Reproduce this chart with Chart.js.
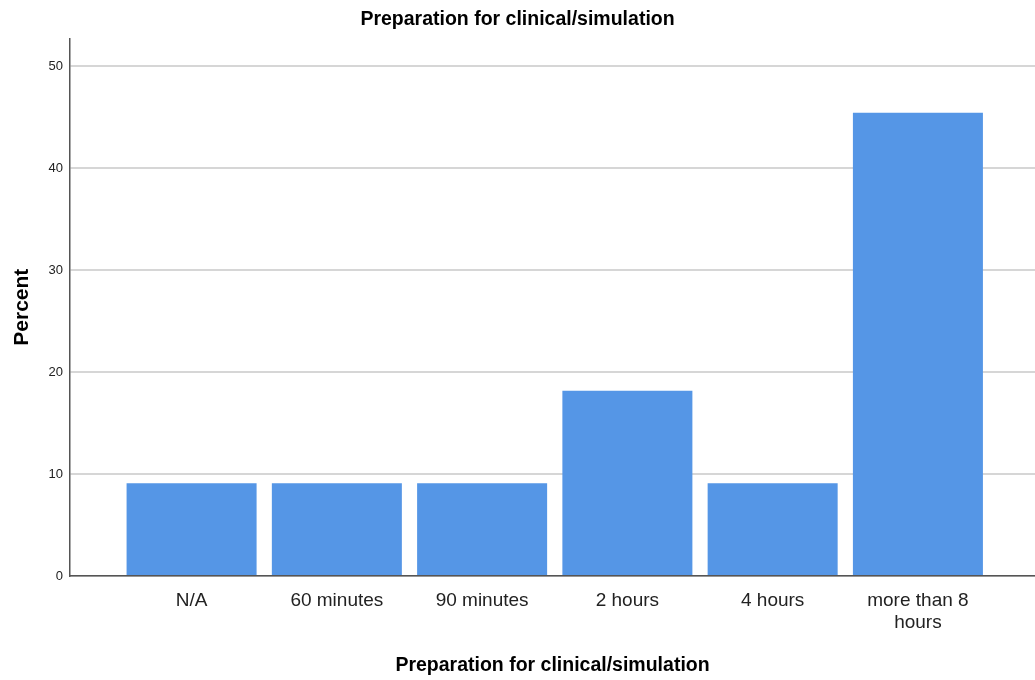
<!DOCTYPE html>
<html>
<head>
<meta charset="utf-8">
<script src="https://cdn.jsdelivr.net/npm/chart.js@4/dist/chart.umd.min.js"></script>
<style>
  body { margin: 0; background: #fff; }
  #wrap { width: 1035px; height: 680px; }
</style>
</head>
<body>
<div id="wrap"><canvas id="myChart"></canvas></div>
<script>
// categories and percents
const categories = ['N/A', '60 minutes', '90 minutes', '2 hours', '4 hours', ['more than 8', 'hours']];
const percents = [9.09, 9.09, 9.09, 18.18, 9.09, 45.45];
const yTicks = [0, 10, 20, 30, 40, 50];

const font = "'Liberation Sans', Arial, sans-serif";

const ctx = document.getElementById('myChart').getContext('2d');
new Chart(ctx, {
  type: 'bar',
  data: {
    datasets: [{
      data: percents.map((v, i) => ({ x: i, y: v })),
      backgroundColor: '#5596e6',
      borderWidth: 0,
      barPercentage: 0.895,
      categoryPercentage: 1
    }]
  },
  options: {
    responsive: true,
    maintainAspectRatio: false,
    animation: false,
    layout: { padding: 0 },
    plugins: {
      legend: { display: false },
      tooltip: { enabled: false },
      title: {
        display: true,
        text: 'Preparation for clinical/simulation',
        color: '#000',
        font: { family: font, size: 19.5, weight: 'bold' },
        padding: { top: 8, bottom: 7 }
      }
    },
    scales: {
      x: {
        type: 'linear',
        offset: false,
        min: -0.837,
        max: 5.806,
        grid: { display: false },
        border: { display: true, color: '#555', width: 1.5 },
        afterBuildTicks: (scale) => { scale.ticks = categories.map((c, i) => ({ value: i })); },
        afterFit: (scale) => { scale.height = 104; },
        ticks: {
          autoSkip: false,
          maxRotation: 0,
          padding: 6,
          color: '#222',
          font: { family: font, size: 19, lineHeight: 1.15 },
          callback: (v) => categories[v]
        },
        title: {
          display: true,
          text: 'Preparation for clinical/simulation',
          color: '#000',
          font: { family: font, size: 19.5, weight: 'bold' },
          padding: { top: 0, bottom: 3 }
        }
      },
      y: {
        min: 0,
        max: 52.75,
        afterBuildTicks: (scale) => { scale.ticks = yTicks.map(v => ({ value: v })); },
        afterFit: (scale) => { scale.width = 70; },
        grid: { color: '#d6d6d6', lineWidth: 2, drawTicks: false },
        border: { display: true, color: '#555', width: 1.5 },
        ticks: {
          padding: 7,
          color: '#222',
          font: { family: font, size: 13 }
        },
        title: {
          display: true,
          text: 'Percent',
          color: '#000',
          font: { family: font, size: 21, weight: 'bold' },
          padding: { top: 10, bottom: 0 }
        }
      }
    }
  }
});
</script>
</body>
</html>
